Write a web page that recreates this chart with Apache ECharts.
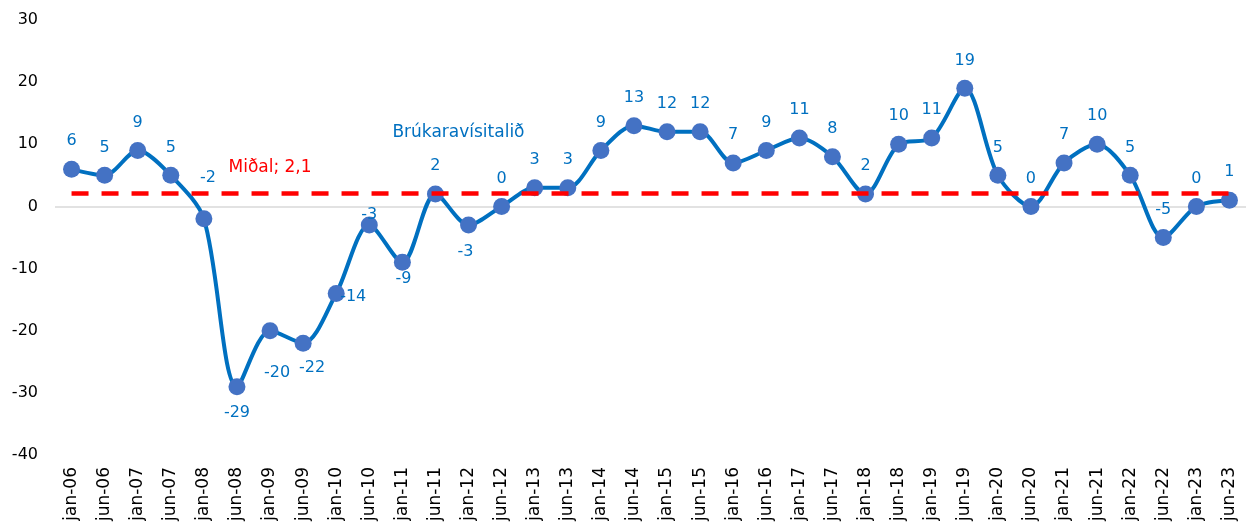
<!DOCTYPE html>
<html>
<head>
<meta charset="utf-8">
<script src="https://cdn.jsdelivr.net/npm/echarts@6/dist/echarts.min.js"></script>
<style>
html,body{margin:0;padding:0;background:#fff;}
#chart{width:1252px;height:529px;}
</style>
</head>
<body>
<div id="chart"></div>
<script>
// ---- data ----
const categories = ['jan-06','jun-06','jan-07','jun-07','jan-08','jun-08','jan-09','jun-09','jan-10','jun-10',
  'jan-11','jun-11','jan-12','jun-12','jan-13','jun-13','jan-14','jun-14','jan-15','jun-15',
  'jan-16','jun-16','jan-17','jun-17','jan-18','jun-18','jan-19','jun-19','jan-20','jun-20',
  'jan-21','jun-21','jan-22','jun-22','jan-23','jun-23'];
const values = [6,5,9,5,-2,-29,-20,-22,-14,-3,
  -9,2,-3,0,3,3,9,13,12,12,
  7,9,11,8,2,10,11,19,5,0,
  7,10,5,-5,0,1];
const seriesName = 'Brúkaravísitalið';
const meanName = 'Miðal';
const meanValue = 2.1;
const yMin = -40, yMax = 30, yStep = 10;

// ---- styling (label placement offsets, px relative to point centre) ----
const defaultOffset = [0, -28];
const specialOffsets = {
  'jan-08': [4, -41],
  'jun-08': [0, 26],
  'jan-09': [7, 42],
  'jun-09': [9, 25],
  'jan-10': [17, 3],
  'jun-10': [0, -10],
  'jan-11': [1, 16],
  'jan-12': [-3, 27]
};
const blue = '#0070C0';
const marker = '#4472C4';
const font = 'DejaVu Sans';

const mainData = values.map((v, i) => ({
  value: v,
  label: { offset: specialOffsets[categories[i]] || defaultOffset }
}));
const meanData = categories.map(() => meanValue);
const meanLabelCategory = 'jan-09';
const meanLabelText = meanName + '; ' + String(meanValue).replace('.', ',');

const chart = echarts.init(document.getElementById('chart'), null, { renderer: 'canvas' });
chart.setOption({
  animation: false,
  grid: { left: 55, right: 6, top: 20, bottom: 74, containLabel: false },
  xAxis: {
    type: 'category',
    data: categories,
    boundaryGap: true,
    axisLine: { show: false },
    axisTick: { show: false },
    axisLabel: { rotate: 90, margin: 12, fontFamily: font, fontSize: 17, color: '#000' },
    splitLine: { show: false }
  },
  yAxis: {
    type: 'value',
    min: yMin, max: yMax, interval: yStep,
    axisLine: { show: false },
    axisTick: { show: false },
    splitLine: { show: false },
    axisLabel: { margin: 17, fontFamily: font, fontSize: 16, color: '#000' }
  },
  series: [
    {
      name: seriesName,
      type: 'line',
      data: mainData,
      smooth: 0.3,
      symbol: 'circle',
      symbolSize: 17,
      itemStyle: { color: marker },
      lineStyle: { color: blue, width: 4 },
      z: 3,
      label: {
        show: true,
        position: 'inside',
        fontFamily: font,
        fontSize: 16,
        color: blue
      },
      markLine: {
        silent: true,
        symbol: 'none',
        label: { show: false },
        lineStyle: { color: '#d9d9d9', width: 1.5, type: 'solid' },
        data: [{ yAxis: 0 }],
        z: 1
      },
      markPoint: {
        symbol: 'circle',
        symbolSize: 0,
        data: [{ coord: ['jun-11', 2], value: seriesName }],
        label: {
          show: true,
          position: 'inside',
          offset: [23, -61],
          formatter: seriesName,
          fontFamily: font,
          fontSize: 17,
          color: blue
        }
      }
    },
    {
      name: meanName,
      type: 'line',
      data: meanData,
      symbol: 'none',
      showSymbol: false,
      lineStyle: { color: '#FF0000', width: 4.5, type: [17, 13], cap: 'butt' },
      z: 4,
      markPoint: {
        symbol: 'circle',
        symbolSize: 0,
        data: [{ coord: [meanLabelCategory, meanValue], value: meanValue }],
        label: {
          show: true,
          position: 'inside',
          offset: [0, -26],
          formatter: meanLabelText,
          fontFamily: font,
          fontSize: 17,
          color: '#FF0000'
        }
      }
    }
  ]
});
</script>
</body>
</html>
